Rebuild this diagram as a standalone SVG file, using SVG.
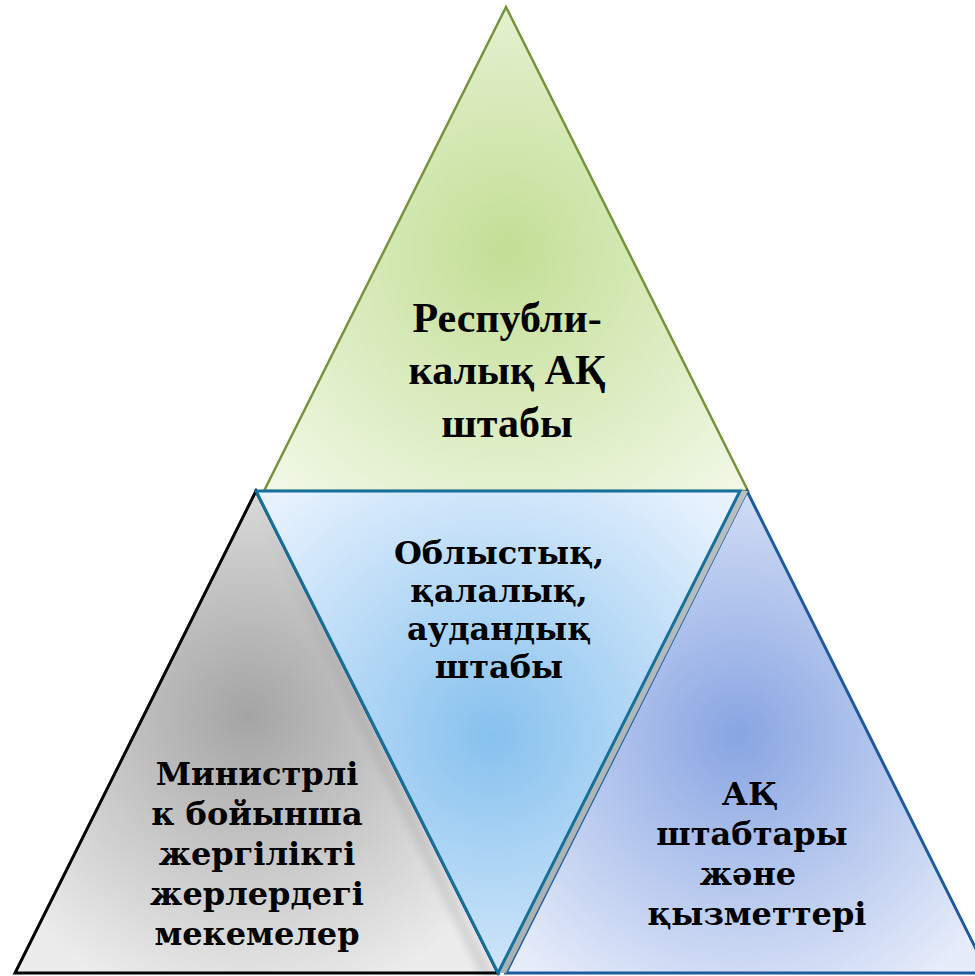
<svg xmlns="http://www.w3.org/2000/svg" width="975" height="976" viewBox="0 0 975 976">
  <defs>
    <radialGradient id="gGreen" gradientUnits="userSpaceOnUse" cx="507" cy="250" r="330">
      <stop offset="0" stop-color="#c3de95"/>
      <stop offset="1" stop-color="#f1f8e6"/>
    </radialGradient>
    <radialGradient id="gGray" gradientUnits="userSpaceOnUse" cx="248" cy="715" r="300">
      <stop offset="0" stop-color="#a4a4a4"/>
      <stop offset="1" stop-color="#ececec"/>
    </radialGradient>
    <radialGradient id="gBlue" gradientUnits="userSpaceOnUse" cx="492" cy="735" r="320">
      <stop offset="0" stop-color="#86c1ee"/>
      <stop offset="1" stop-color="#e8f2fe"/>
    </radialGradient>
    <radialGradient id="gViolet" gradientUnits="userSpaceOnUse" cx="738" cy="735" r="310">
      <stop offset="0" stop-color="#88a5e2"/>
      <stop offset="1" stop-color="#e6ecfa"/>
    </radialGradient>
    <linearGradient id="gShadow" x1="0" y1="0" x2="0" y2="1">
      <stop offset="0" stop-color="#b8c0c0"/>
      <stop offset="1" stop-color="#a8b2b2"/>
    </linearGradient>
    <filter id="blur" x="-20%" y="-20%" width="140%" height="140%">
      <feGaussianBlur stdDeviation="5"/>
    </filter>
    <style>
      .t1 { font-family: "Liberation Serif", "Times New Roman", serif; font-weight: bold; font-size: 42px; fill: #000; text-anchor: middle; }
      .t2 { font-family: "DejaVu Serif", "Liberation Serif", serif; font-weight: bold; font-size: 32px; fill: #000; text-anchor: middle; }
    </style>
  </defs>
  <rect x="0" y="0" width="975" height="976" fill="#ffffff"/>

  <g id="node-top">
    <polygon points="506,7 264,491 748,491" fill="url(#gGreen)" stroke="#77933c" stroke-width="2.5" stroke-linejoin="miter"/>
    <text class="t1" x="507" y="332">Республи-</text>
    <text class="t1" x="507" y="384">калық АҚ</text>
    <text class="t1" x="507" y="437">штабы</text>
  </g>

  <g id="node-left">
    <polygon points="256,491 15,973 498,973" fill="url(#gGray)" stroke="#000000" stroke-width="3"/>
    <text class="t2" x="257" y="785">Министрлі</text>
    <text class="t2" x="257" y="825">к бойынша</text>
    <text class="t2" x="257" y="865">жергілікті</text>
    <text class="t2" x="257" y="905">жерлердегі</text>
    <text class="t2" x="257" y="945">мекемелер</text>
  </g>

  <g id="node-right">
    <polygon points="747,491 506,973 988,973" fill="url(#gViolet)" stroke="#1f5a9c" stroke-width="3"/>
    <text class="t2" x="750" y="805">АҚ</text>
    <text class="t2" x="752" y="845">штабтары</text>
    <text class="t2" x="748" y="885">және</text>
    <text class="t2" x="757" y="925">қызметтері</text>
  </g>

  <g id="node-middle">
    <polygon points="250,491 498,985 480,973" fill="#000" opacity="0.12" filter="url(#blur)"/>
    <polygon points="740,491 748,491 506,973 498,973" fill="url(#gShadow)"/>
    <polygon points="256,491 740,491 498,973" fill="url(#gBlue)" stroke="#17709c" stroke-width="3" stroke-linejoin="miter"/>
    <text class="t2" x="499" y="564">Облыстық,</text>
    <text class="t2" x="499" y="602">қалалық,</text>
    <text class="t2" x="499" y="640">аудандық</text>
    <text class="t2" x="499" y="678">штабы</text>
  </g>
</svg>
